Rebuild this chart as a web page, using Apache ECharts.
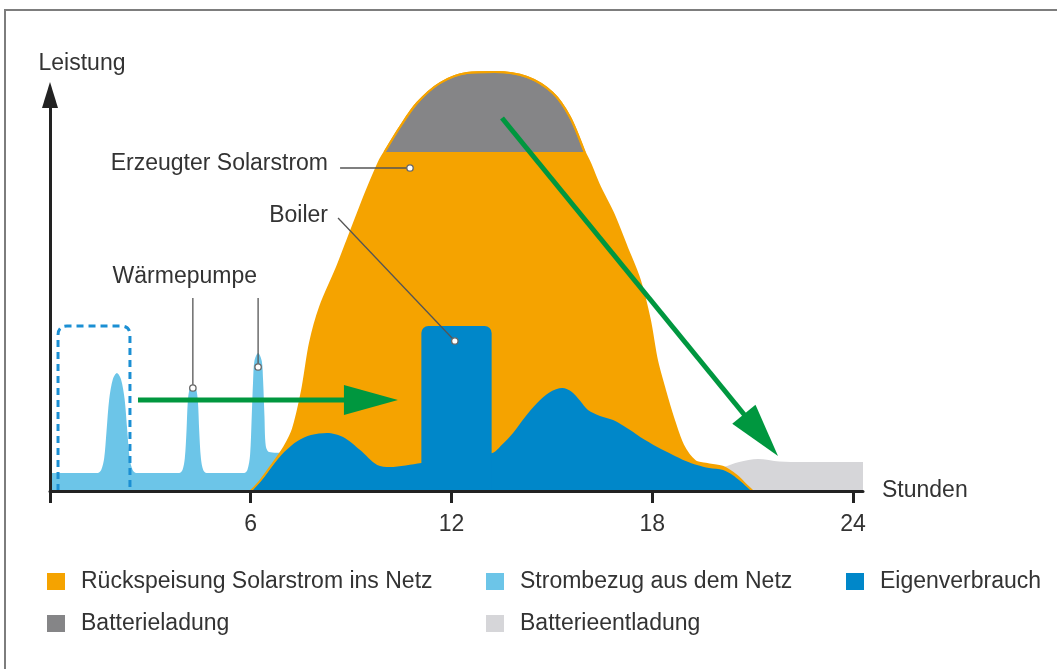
<!DOCTYPE html>
<html>
<head>
<meta charset="utf-8">
<script src="https://cdn.jsdelivr.net/npm/echarts@6/dist/echarts.min.js"></script>
<style>
  html, body { margin: 0; padding: 0; background: #fff; }
  #chart { position: absolute; left: 0; top: 0; width: 1057px; height: 669px; }
  #frame { position: absolute; left: 4px; top: 9px; right: 0; bottom: 0;
           border-top: 2px solid #7d7d7d; border-left: 2px solid #7d7d7d; pointer-events: none; }
</style>
</head>
<body>
<div id="chart"></div>
<div id="frame"></div>
<script>
// Time axis (hours of the day)
const hourTicks = [0, 6, 12, 18, 24];
const hourLabels = [6, 12, 18, 24];
const dayEnd = 24.3;
const powerMax = 42;

// Power drawn from the grid: base load plus three heat pump runs, [hour, power]
const gridDraw = [
  [0, 1.8], [1.42, 1.8], [1.53, 2.1], [1.62, 3.3], [1.69, 6.0], [1.77, 9.2], [1.88, 11.2],
  [2.0, 11.8], [2.12, 11.2], [2.23, 9.2], [2.31, 6.0], [2.38, 3.3], [2.47, 2.1], [2.58, 1.8],
  [3.86, 1.8], [3.96, 2.1], [4.03, 3.3], [4.08, 6.0], [4.12, 9.0], [4.18, 10.3], [4.27, 10.6],
  [4.36, 10.3], [4.42, 9.0], [4.46, 6.0], [4.51, 3.3], [4.58, 2.1], [4.68, 1.8],
  [5.80, 1.8], [5.90, 2.1], [5.98, 3.6], [6.03, 7.5], [6.07, 11.0], [6.11, 13.0], [6.22, 13.8],
  [6.33, 13.0], [6.37, 11.0], [6.41, 7.5], [6.45, 4.5], [6.55, 3.9], [7.0, 3.8], [7.4, 3.6], [7.5, 0]
];

// Solar output over the day, [hour, power]
const solarOutput = [
  [6.0, 0], [6.3, 1.1], [6.67, 2.8], [7.0, 4.4], [7.26, 6.2], [7.53, 10.0], [7.77, 14.8],
  [8.07, 18.4], [8.58, 22.4], [8.97, 25.8], [9.27, 28.4], [9.56, 30.8], [9.86, 33.1],
  [10.0, 33.9], [10.46, 36.4], [10.97, 38.8], [11.66, 40.8], [12.46, 41.8], [13.3, 41.9],
  [14.26, 41.4], [15.03, 39.8], [15.54, 37.4], [15.98, 33.9], [16.14, 32.8], [16.44, 30.4],
  [16.83, 27.8], [17.24, 24.4], [17.63, 21.1], [17.93, 17.1], [18.14, 13.1], [18.38, 10.1],
  [18.62, 7.4], [18.92, 4.6], [19.28, 3.0], [19.64, 2.7], [20.12, 2.4], [20.54, 1.5],
  [20.75, 0.8], [21.0, 0]
];

// Solar output above this level charges the battery
const batteryChargeLevel = 33.9;

// Self-consumed solar power (household load), [hour, power]
const selfUse = [
  [6.0, 0], [6.3, 1.0], [6.67, 2.6], [7.0, 3.9], [7.4, 5.0], [7.8, 5.6], [8.28, 5.8],
  [8.76, 5.4], [9.27, 4.1], [9.78, 2.6], [10.16, 2.4], [11.1, 2.8], [12.2, 3.3], [13.22, 3.8],
  [13.5, 4.6], [13.84, 5.8], [14.2, 7.4], [14.56, 8.8], [14.95, 9.9], [15.31, 10.3],
  [15.6, 9.9], [15.85, 9.0], [16.08, 8.1], [16.44, 7.5], [16.83, 7.1], [17.15, 6.5],
  [17.43, 5.9], [17.64, 5.4], [18.15, 4.4], [18.62, 3.6], [19.0, 3.0], [19.34, 2.6],
  [19.7, 2.3], [20.12, 2.1], [20.4, 1.6], [20.63, 1.0], [21.0, 0]
];

// Evening battery discharge, [hour, power]
const batteryDischarge = [
  [19.6, 2.2], [20.12, 2.4], [20.6, 2.9], [21.16, 3.2], [21.8, 2.95], [22.5, 2.9], [24.3, 2.9]
];

// Boiler run at midday: [from hour, to hour, power]
const boilerRun = [[11.1, 13.2, 16.5]];

// Night-time heat pump window that gets shifted: [from hour, to hour, power]
const heatPumpWindow = [[0.24, 2.39, 16.5]];

// Load-shift arrows: [from hour, from power, to hour, to power]
const shiftArrows = [
  [2.63, 9.1, 10.4, 9.1],
  [13.51, 37.3, 21.76, 3.5]
];

// Callouts: text, text anchor [hour, power], leader lines [[from], [to]]
const callouts = [
  { text: 'Erzeugter Solarstrom', at: [8.31, 32.7], align: 'right',
    leaders: [[[8.67, 32.3], [10.76, 32.3]]] },
  { text: 'Boiler', at: [8.31, 27.5], align: 'right',
    leaders: [[[8.61, 27.3], [12.1, 15.0]]] },
  { text: 'Wärmepumpe', at: [4.03, 21.4], align: 'center',
    leaders: [[[4.27, 19.3], [4.27, 10.3]], [[6.22, 19.3], [6.22, 12.4]]] }
];

const batteryCharge = solarOutput.filter(p => p[1] >= batteryChargeLevel);

const FONT = '"Liberation Sans", Arial, sans-serif';
const FS = 23;
const C = {
  orange: '#f5a300', lightBlue: '#6cc5e8', blue: '#0087c9', gray: '#858587',
  lightGray: '#d6d6d9', green: '#00973f', text: '#333333', axis: '#222222'
};

const chart = echarts.init(document.getElementById('chart'), null, { renderer: 'canvas' });

const legendText = { color: C.text, fontSize: FS, fontFamily: FONT, lineHeight: 22, padding: [0, 0, 0, 11] };
const legendBase = { orient: 'vertical', top: 570, padding: 0, itemGap: 19, itemWidth: 18, itemHeight: 17,
  icon: 'rect', textStyle: legendText, selectedMode: false };

chart.setOption({
  animation: false,
  backgroundColor: '#fff',
  grid: [
    { left: 50, right: 1057 - 863, top: 71, bottom: 178 },
    { left: 50, right: 900, top: 95, bottom: 178 }
  ],
  xAxis: [
    {
      type: 'value', gridIndex: 0, min: 0, max: dayEnd, z: 10,
      name: 'Stunden', nameLocation: 'end', nameGap: 19,
      nameTextStyle: { color: C.text, fontSize: FS, fontFamily: FONT, padding: [0, 0, 18, 0] },
      axisLine: { show: true, onZero: false, lineStyle: { color: C.axis, width: 3 } },
      axisTick: { show: true, customValues: hourTicks, length: 12, lineStyle: { color: C.axis, width: 3 } },
      axisLabel: { show: true, customValues: hourLabels, margin: 22, color: C.text, fontSize: FS, fontFamily: FONT },
      splitLine: { show: false }
    },
    { type: 'value', gridIndex: 1, min: 0, max: 1, show: false }
  ],
  yAxis: [
    { type: 'value', gridIndex: 0, min: 0, max: powerMax, show: false },
    {
      type: 'value', gridIndex: 1, min: 0, max: 1, z: 10,
      name: 'Leistung', nameLocation: 'end', nameGap: 20,
      nameTextStyle: { color: C.text, fontSize: FS, fontFamily: FONT, padding: [0, 0, 0, 64] },
      axisLine: { show: true, onZero: false, symbol: ['none', 'triangle'], symbolSize: [16, 26],
        lineStyle: { color: C.axis, width: 3 } },
      axisTick: { show: false }, axisLabel: { show: false }, splitLine: { show: false }
    }
  ],
  legend: [
    Object.assign({ left: 47, data: ['Rückspeisung Solarstrom ins Netz', 'Batterieladung'] }, legendBase),
    Object.assign({ left: 486, data: ['Strombezug aus dem Netz', 'Batterieentladung'] }, legendBase),
    Object.assign({ left: 846, data: ['Eigenverbrauch'] }, legendBase)
  ],
  series: [
    {
      name: 'Batterieentladung', type: 'line', data: batteryDischarge, smooth: 0.3,
      showSymbol: false, lineStyle: { width: 0 }, z: 2,
      itemStyle: { color: C.lightGray }, areaStyle: { color: C.lightGray, opacity: 1 }
    },
    {
      name: 'Strombezug aus dem Netz', type: 'line', data: gridDraw, smooth: 0.3,
      showSymbol: false, lineStyle: { width: 0 }, z: 2,
      itemStyle: { color: C.lightBlue }, areaStyle: { color: C.lightBlue, opacity: 1 }
    },
    {
      name: 'Rückspeisung Solarstrom ins Netz', type: 'line', data: solarOutput, smooth: 0.3,
      showSymbol: false, lineStyle: { width: 2, color: C.orange }, z: 2,
      itemStyle: { color: C.orange }, areaStyle: { color: C.orange, opacity: 1 }
    },
    {
      name: 'Batterieladung', type: 'line', data: batteryCharge, smooth: 0.3,
      showSymbol: false, lineStyle: { width: 2, color: C.orange }, z: 2,
      itemStyle: { color: C.gray }, areaStyle: { color: C.gray, opacity: 1, origin: batteryChargeLevel }
    },
    {
      name: 'Eigenverbrauch', type: 'line', data: selfUse, smooth: 0.3,
      showSymbol: false, lineStyle: { width: 0 }, z: 2,
      itemStyle: { color: C.blue }, areaStyle: { color: C.blue, opacity: 1 }
    },
    {
      name: 'Eigenverbrauch', type: 'custom', data: boilerRun, z: 3,
      itemStyle: { color: C.blue },
      renderItem: function (params, api) {
        const b = boilerRun[params.dataIndex];
        const tl = api.coord([b[0], b[2]]);
        const br = api.coord([b[1], 0]);
        return { type: 'rect',
          shape: { x: tl[0], y: tl[1], width: br[0] - tl[0], height: br[1] - tl[1], r: [7, 7, 0, 0] },
          style: { fill: C.blue } };
      }
    },
    {
      type: 'custom', data: heatPumpWindow, silent: true, z: 4,
      renderItem: function (params, api) {
        const w = heatPumpWindow[params.dataIndex];
        const p0 = api.coord([w[0], 0]);
        const p1 = api.coord([w[1], w[2]]);
        const r = 9;
        const d = 'M' + p0[0] + ',' + p0[1] + ' L' + p0[0] + ',' + (p1[1] + r) +
          ' Q' + p0[0] + ',' + p1[1] + ' ' + (p0[0] + r) + ',' + p1[1] +
          ' L' + (p1[0] - r) + ',' + p1[1] +
          ' Q' + p1[0] + ',' + p1[1] + ' ' + p1[0] + ',' + (p1[1] + r) +
          ' L' + p1[0] + ',' + p0[1];
        return { type: 'path', shape: { pathData: d },
          style: { fill: 'none', stroke: '#1b8fd3', lineWidth: 3, lineDash: [7, 5] } };
      }
    },
    {
      type: 'custom', data: shiftArrows, silent: true, z: 5,
      renderItem: function (params, api) {
        const a = shiftArrows[params.dataIndex];
        const p0 = api.coord([a[0], a[1]]);
        const p1 = api.coord([a[2], a[3]]);
        const dx = p1[0] - p0[0], dy = p1[1] - p0[1];
        const len = Math.hypot(dx, dy), ux = dx / len, uy = dy / len;
        const headLen = 54, headHalf = 15;
        const bx = p1[0] - ux * headLen, by = p1[1] - uy * headLen;
        return { type: 'group', children: [
          { type: 'line', shape: { x1: p0[0], y1: p0[1], x2: bx + ux * 4, y2: by + uy * 4 },
            style: { stroke: C.green, lineWidth: 5 } },
          { type: 'polygon', shape: { points: [
              [p1[0], p1[1]],
              [bx - uy * headHalf, by + ux * headHalf],
              [bx + uy * headHalf, by - ux * headHalf]] },
            style: { fill: C.green } }
        ] };
      }
    },
    {
      type: 'custom', data: callouts.map(c => c.at), silent: true, z: 6,
      renderItem: function (params, api) {
        const c = callouts[params.dataIndex];
        const children = [];
        c.leaders.forEach(function (seg) {
          const p0 = api.coord(seg[0]);
          const p1 = api.coord(seg[1]);
          children.push({ type: 'line', shape: { x1: p0[0], y1: p0[1], x2: p1[0], y2: p1[1] },
            style: { stroke: '#555', lineWidth: 1.3 } });
          children.push({ type: 'circle', shape: { cx: p1[0], cy: p1[1], r: 3.2 },
            style: { fill: '#fff', stroke: '#666', lineWidth: 1.3 } });
        });
        const t = api.coord(c.at);
        children.push({ type: 'text', x: t[0], y: t[1],
          style: { text: c.text, fill: C.text, font: FS + 'px ' + FONT, align: c.align, verticalAlign: 'middle' } });
        return { type: 'group', children: children };
      }
    }
  ]
});
</script>
</body>
</html>
